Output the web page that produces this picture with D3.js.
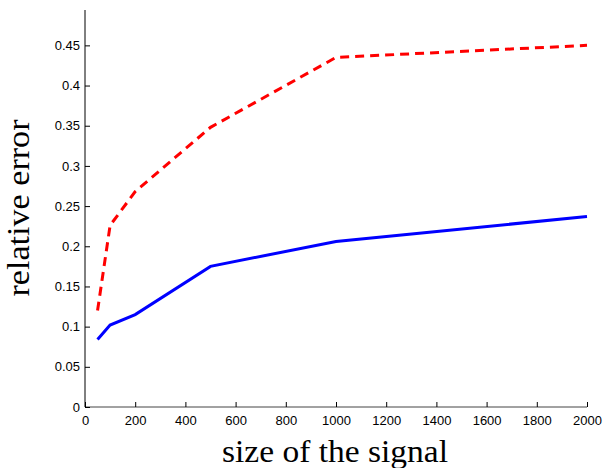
<!DOCTYPE html>
<html>
<head>
<meta charset="utf-8">
<script src="https://cdn.jsdelivr.net/npm/d3@7"></script>
<style>
  body { margin: 0; background: #fff; }
  svg { display: block; }
  .tick text { font-family: "Liberation Sans", Arial, sans-serif; font-size: 13px; fill: #000; }
  .axis-label { font-family: "Liberation Serif", "Times New Roman", serif; font-size: 31px; fill: #000; }
</style>
</head>
<body>
<svg id="chart" width="603" height="468"></svg>
<script>
const sizes = [50, 100, 200, 500, 1000, 2000];
const solidErrors = [0.084, 0.102, 0.115, 0.175, 0.206, 0.237];
const dashedErrors = [0.12, 0.226, 0.268, 0.348, 0.435, 0.45];
const xTicks = [0, 200, 400, 600, 800, 1000, 1200, 1400, 1600, 1800, 2000];
const yTicks = [0, 0.05, 0.1, 0.15, 0.2, 0.25, 0.3, 0.35, 0.4, 0.45];

const svg = d3.select("#chart");
const margin = { left: 85, right: 16, top: 10, bottom: 61 };
const width = 603, height = 468;

const xScale = d3.scaleLinear()
  .domain([0, 2000])
  .range([margin.left, width - margin.right]);
const yScale = d3.scaleLinear()
  .domain([0, 0.494])
  .range([height - margin.bottom, margin.top]);

// Axes with inward ticks
const xAxis = d3.axisBottom(xScale)
  .tickValues(xTicks)
  .tickSize(-5)
  .tickPadding(9)
  .tickFormat(d3.format("d"));
const yAxis = d3.axisLeft(yScale)
  .tickValues(yTicks)
  .tickSize(-5)
  .tickPadding(5)
  .tickFormat(d => d === 0 ? "0" : String(d));

const gx = svg.append("g")
  .attr("transform", `translate(0,${height - margin.bottom})`)
  .call(xAxis);
gx.select(".domain").attr("stroke", "#444").attr("d", `M${margin.left},0H${width - margin.right}`);
gx.selectAll(".tick line").attr("stroke", "#000");

const gy = svg.append("g")
  .attr("transform", `translate(${margin.left},0)`)
  .call(yAxis);
gy.select(".domain").attr("stroke", "#000").attr("d", `M0,${height - margin.bottom}V${margin.top}`);
gy.selectAll(".tick line").attr("stroke", "#000");

const line = d3.line()
  .x(d => xScale(d[0]))
  .y(d => yScale(d[1]));

svg.append("path")
  .datum(d3.zip(sizes, dashedErrors))
  .attr("fill", "none")
  .attr("stroke", "#ff0000")
  .attr("stroke-width", 3)
  .attr("stroke-dasharray", "9,6")
  .attr("d", line);

svg.append("path")
  .datum(d3.zip(sizes, solidErrors))
  .attr("fill", "none")
  .attr("stroke", "#0000ff")
  .attr("stroke-width", 3)
  .attr("d", line);

// Axis labels (Computer Modern is wider than Times, so stretch a bit)
svg.append("text")
  .attr("class", "axis-label")
  .attr("x", 335)
  .attr("y", 462)
  .attr("text-anchor", "middle")
  .attr("textLength", 226)
  .attr("lengthAdjust", "spacingAndGlyphs")
  .text("size of the signal");

svg.append("text")
  .attr("class", "axis-label")
  .attr("transform", `translate(29,208) rotate(-90)`)
  .attr("text-anchor", "middle")
  .attr("textLength", 177)
  .attr("lengthAdjust", "spacingAndGlyphs")
  .text("relative error");
</script>
</body>
</html>
